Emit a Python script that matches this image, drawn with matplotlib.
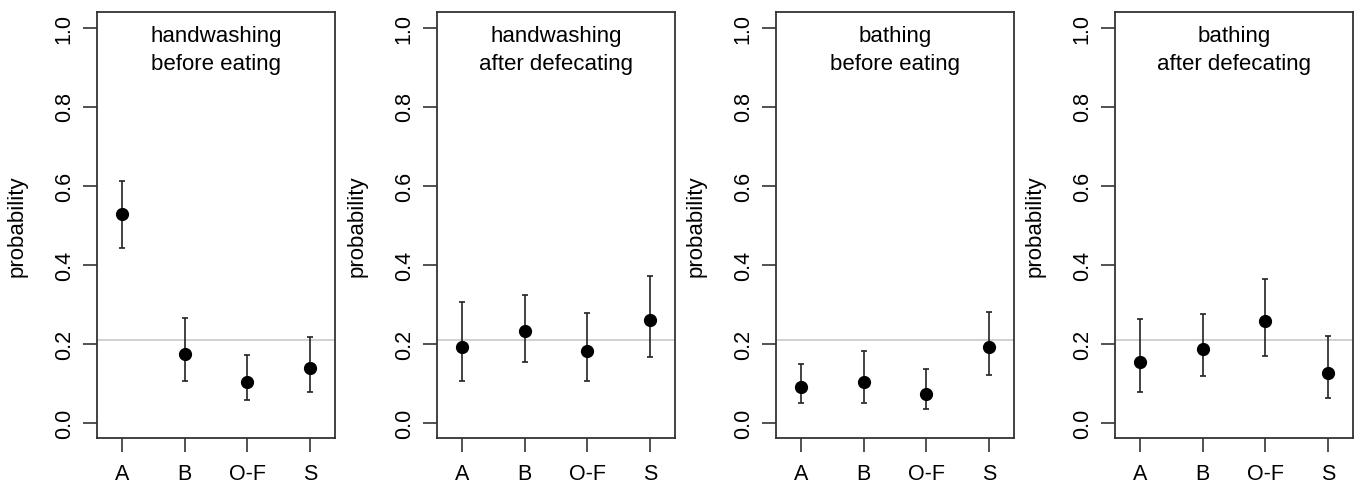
import matplotlib
matplotlib.use("Agg")
import matplotlib.pyplot as plt

plt.rcParams['font.family'] = ['Liberation Sans', 'DejaVu Sans']

categories = ["A", "B", "O-F", "S"]
titles = ["handwashing\nbefore eating", "handwashing\nafter defecating",
          "bathing\nbefore eating", "bathing\nafter defecating"]

hw_before_mean = [0.527, 0.174, 0.103, 0.137]
hw_before_lo = [0.442, 0.104, 0.056, 0.078]
hw_before_hi = [0.612, 0.265, 0.172, 0.217]

hw_after_mean = [0.191, 0.231, 0.180, 0.260]
hw_after_lo = [0.104, 0.154, 0.106, 0.166]
hw_after_hi = [0.305, 0.324, 0.277, 0.372]

bath_before_mean = [0.089, 0.102, 0.073, 0.191]
bath_before_lo = [0.049, 0.050, 0.035, 0.120]
bath_before_hi = [0.147, 0.180, 0.136, 0.279]

bath_after_mean = [0.154, 0.187, 0.258, 0.126]
bath_after_lo = [0.076, 0.117, 0.169, 0.063]
bath_after_hi = [0.263, 0.275, 0.363, 0.219]

reference_level = 0.209
yticks = [0.0, 0.2, 0.4, 0.6, 0.8, 1.0]

panels = [
    (hw_before_mean, hw_before_lo, hw_before_hi),
    (hw_after_mean, hw_after_lo, hw_after_hi),
    (bath_before_mean, bath_before_lo, bath_before_hi),
    (bath_after_mean, bath_after_lo, bath_after_hi),
]

W, H = 1357, 485
fig = plt.figure(figsize=(W / 100, H / 100), dpi=100)
lefts = [97, 437, 776, 1115]
ax_w = 238
ax_top = 12.7
ax_bot = 439.3
frame_col = "#333333"
fs = 15.5

for i, (mean, lo, hi) in enumerate(panels):
    ax = fig.add_axes([lefts[i] / W, 1 - ax_bot / H, ax_w / W, (ax_bot - ax_top) / H])
    x = list(range(1, len(categories) + 1))
    ax.axhline(reference_level, color="#c8c8c8", lw=1.2, zorder=1)
    yerr = [[m - l for m, l in zip(mean, lo)], [h - m for m, h in zip(mean, hi)]]
    ax.errorbar(x, mean, yerr=yerr, fmt="o", color="black", ms=8.5,
                ecolor="#222222", elinewidth=1.2, capsize=2, capthick=1.2, zorder=3)
    ax.set_xlim(0.6, 4.4)
    ax.set_ylim(-0.04, 1.04)
    ax.set_xticks(x)
    ax.set_xticklabels(categories, fontsize=fs)
    ax.set_yticks(yticks)
    ax.set_yticklabels([f"{t:.1f}" for t in yticks], fontsize=fs, rotation=90, va="center")
    ax.tick_params(axis="both", length=10, width=1.2, color=frame_col, pad=6)
    ax.tick_params(axis="x", pad=8)
    for sp in ax.spines.values():
        sp.set_color(frame_col)
        sp.set_linewidth(1.3)
    ax.set_ylabel("probability", fontsize=16, labelpad=19)
    ax.text(0.5, 0.969, titles[i], transform=ax.transAxes, ha="center", va="top",
            fontsize=16, linespacing=1.42)

fig.savefig("out.png", dpi=100)
